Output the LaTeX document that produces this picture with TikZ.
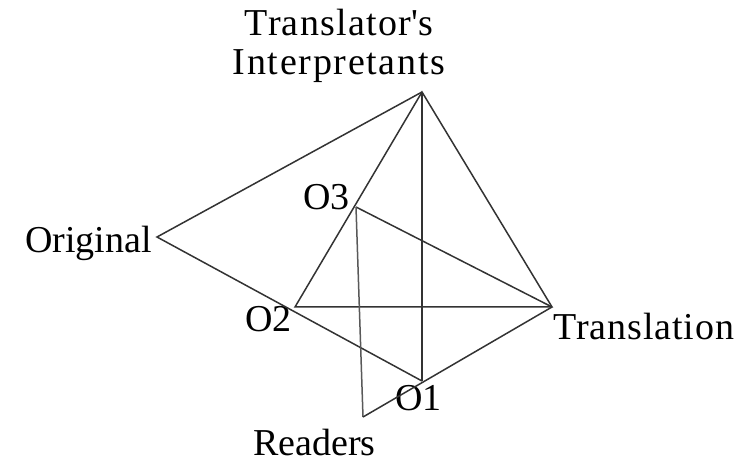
\documentclass[tikz,border=0pt]{standalone}
\usepackage{fontspec}
\setmainfont{Liberation Serif}
\begin{document}
\begin{tikzpicture}[x=1bp,y=-1bp,
  lbl/.style={inner sep=0pt, font=\fontsize{38bp}{39bp}\selectfont, text=black},
  edge/.style={line width=1.5bp, draw=black!80, line join=miter}]
\path[use as bounding box] (0,0) rectangle (747,463);
% vertices
\coordinate (T) at (422,92);
\coordinate (Orig) at (157,237);
\coordinate (O3) at (356,207);
\coordinate (O2) at (295,307);
\coordinate (Tr) at (552,307);
\coordinate (O1) at (422,381);
\coordinate (R) at (363,417);
% labels
\node[lbl, align=center, anchor=south] (lT) at (339,83)
  {\addfontfeature{LetterSpace=3.5}Translator\textquotesingle s\\\addfontfeature{LetterSpace=4.5}Interpretants};
\node[lbl, anchor=base west] (lOrig) at (25,253) {Original};
\node[lbl, anchor=base west] (lO3) at (303,210) {O3};
\node[lbl, anchor=base west] (lO2) at (245,332) {O2};
\node[lbl, anchor=base west] (lTr) at (553,340) {\addfontfeature{LetterSpace=2.5}Translation};
\node[lbl, anchor=base west] (lO1) at (395,410) {O1};
\node[lbl, anchor=base west] (lR) at (253,455) {Readers};
% connectors
\draw[edge] (T) -- (Orig) -- (O1);
\draw[edge] (T) -- (O2) -- (Tr) -- cycle;
\draw[edge] (T) -- (O1);
\draw[edge] (O3) -- (Tr);
\draw[edge, draw=black!65] (O3) -- (R);
\draw[edge] (R) -- (Tr);
\end{tikzpicture}
\end{document}
